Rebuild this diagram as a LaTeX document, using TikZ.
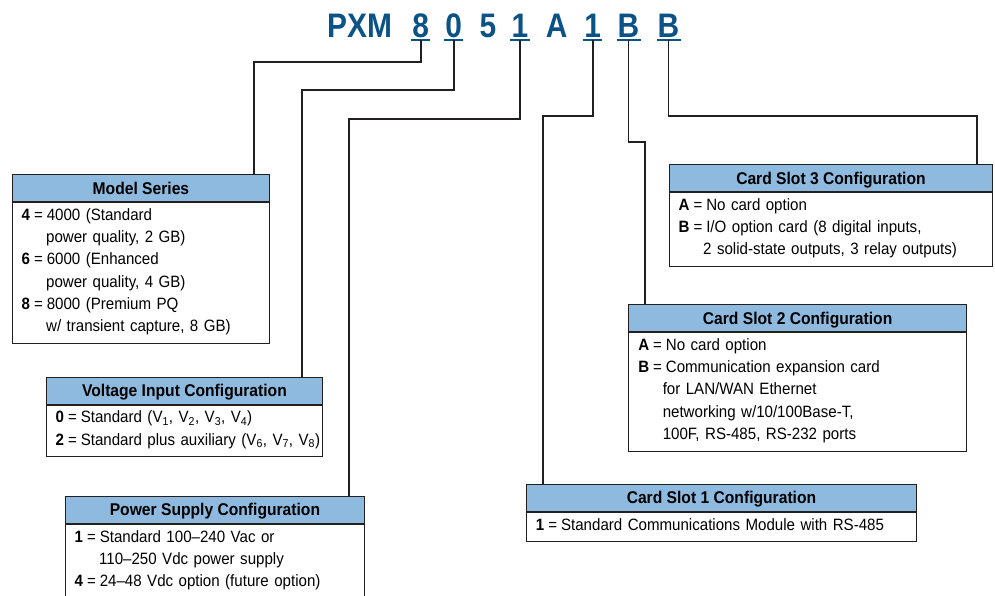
\documentclass[tikz,border=0pt]{standalone}
\usepackage{fontspec}
\setmainfont{Liberation Sans}[FakeStretch=0.92, WordSpace=0.8, BoldFeatures={WordSpace=1}]
\newfontfamily\titlefont{Liberation Sans}[FakeStretch=0.88]
\usetikzlibrary{positioning}

\definecolor{pxmblue}{HTML}{0B5287}
\definecolor{hdrblue}{HTML}{8FBADF}
\definecolor{ink}{HTML}{231F20}

\newcommand{\lastrow}{\rule[-11.8pt]{0pt}{0pt}}
\newcommand{\hang}{\\\hspace*{24.5pt}}
\newcommand{\opt}[1]{\textbf{#1}\kern-1.5pt{} = \kern-1.5pt{}}

\tikzset{
    code/.style={font=\titlefont\fontsize{34}{34}\selectfont\bfseries, text=pxmblue,
        anchor=base, inner sep=0pt},
    ucode/.style={code, inner xsep=1pt, inner ysep=2.7pt, text depth=0pt},
    uline/.style={draw=pxmblue, line width=1.6pt},
    lead/.style={draw=ink, line width=1.8pt},
    hdr/.style={draw=ink, fill=hdrblue, line width=0.9pt, anchor=north west,
        minimum width=#1, minimum height=27pt, inner sep=0pt,
        text height=12pt, text depth=0pt,
        font=\fontsize{17}{18}\selectfont\bfseries},
    body/.style={draw=ink, line width=0.9pt, anchor=north west,
        minimum width=#1, text width=#1-19pt, inner xsep=9.5pt, inner ysep=0pt,
        text height=17.7pt, align=left,
        font=\fontsize{16.4}{22.3}\selectfont}
}

\begin{document}
\begin{tikzpicture}[x=1pt, y=-1pt]

    \useasboundingbox (0,0) rectangle (995,595);

    % Part number
    \node[code]  (pxm) at (359.5,37.3) {PXM};
    \node[ucode] (d8)  at (420.7,37.3) {8};
    \node[ucode] (d0)  at (453.7,37.3) {0};
    \node[code]  (d5)  at (488,37.3)   {5};
    \node[ucode] (d1)  at (520,37.3)   {1};
    \node[code]  (dA)  at (556.7,37.3) {A};
    \node[ucode] (d1b) at (592.7,37.3) {1};
    \node[ucode] (dB)  at (628.5,37.3) {B};
    \node[ucode] (dBb) at (668.5,37.3) {B};

    \foreach \d in {d8, d0, d1, d1b, dB, dBb}
        \draw[uline] (\d.south west) -- (\d.south east);

    % Model series
    \node[hdr=257.6pt] (ms) at (11.7,174.3) {Model Series};
    \node[body=257.6pt] (msb) at (ms.south west)
        {\opt{4}4000 (Standard\hang power quality, 2 GB)\\
         \opt{6}6000 (Enhanced\hang power quality, 4 GB)\\
         \opt{8}8000 (Premium PQ\hang w/ transient capture, 8 GB)\lastrow};

    % Voltage input
    \node[hdr=276.6pt] (vin) at (45.7,376.7) {Voltage Input Configuration};
    \node[body=276.6pt] (vinb) at (vin.south west)
        {\opt{0}Standard (V\textsubscript{1}, V\textsubscript{2}, V\textsubscript{3}, V\textsubscript{4})\\
         \mbox{\opt{2}Standard plus auxiliary (V\textsubscript{6}, V\textsubscript{7}, V\textsubscript{8})}\lastrow};

    % Power supply
    \node[hdr=299.6pt] (psu) at (64.7,496) {Power Supply Configuration};
    \node[body=299.6pt] (psub) at (psu.south west)
        {\opt{1}Standard 100--240 Vac or\hang 110--250 Vdc power supply\\
         \opt{4}24--48 Vdc option (future option)\lastrow};

    % Card slots
    \node[hdr=390pt] (cs1) at (526,484) {Card Slot 1 Configuration};
    \node[body=390pt] (cs1b) at (cs1.south west)
        {\opt{1}Standard Communications Module with RS-485\lastrow};

    \node[hdr=337.7pt] (cs2) at (628.3,304.3) {Card Slot 2 Configuration};
    \node[body=337.7pt] (cs2b) at (cs2.south west)
        {\opt{A}No card option\\
         \opt{B}Communication expansion card\hang for LAN/WAN Ethernet\hang
         networking w/10/100Base-T,\hang 100F, RS-485, RS-232 ports\lastrow};

    \node[hdr=323.6pt] (cs3) at (668.7,164.3) {Card Slot 3 Configuration};
    \node[body=323.6pt] (cs3b) at (cs3.south west)
        {\opt{A}No card option\\
         \opt{B}I/O option card (8 digital inputs,\hang
         2 solid-state outputs, 3 relay outputs)\lastrow};

    % Leads
    \draw[lead] (d8.south)  |- (254,61.7)   -- (254,0 |- ms.north);
    \draw[lead] (d0.south)  |- (302,90)     -- (302,0 |- vin.north);
    \draw[lead] (d1.south)  |- (349,118.7)  -- (349,0 |- psu.north);
    \draw[lead] (d1b.south) |- (542.7,115.7) -- (542.7,0 |- cs1.north);
    \draw[lead] (dB.south)  |- (645,142)    -- (645,0 |- cs2.north);
    \draw[lead] (dBb.south) |- (977,115.7)  -- (977,0 |- cs3.north);

\end{tikzpicture}
\end{document}
